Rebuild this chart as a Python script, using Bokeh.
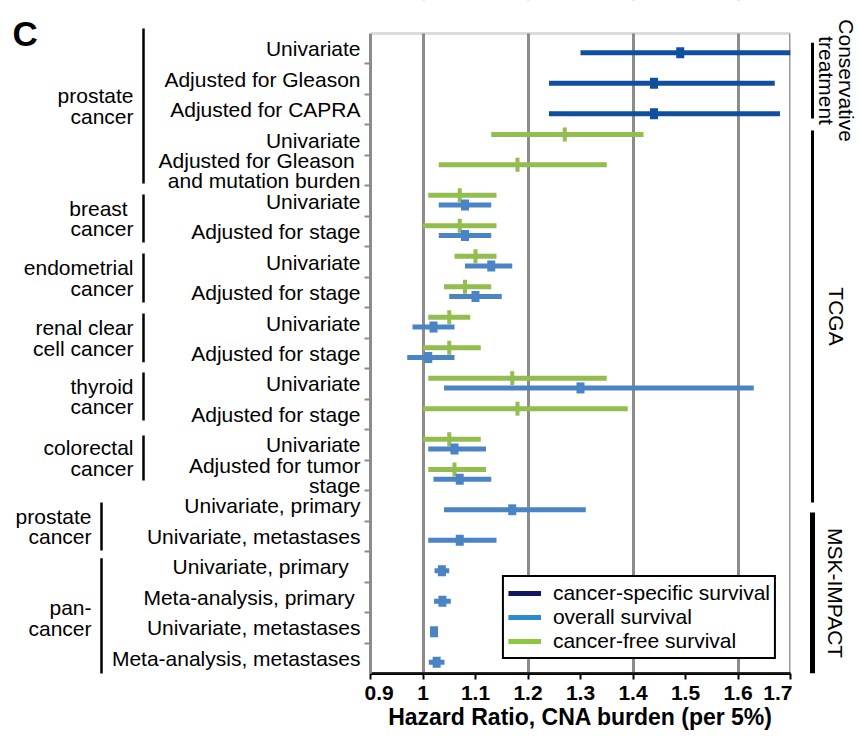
import numpy as np
from bokeh.plotting import figure
from bokeh.models import (Range1d, FixedTicker, Legend, LegendItem, ColumnDataSource, BoxAnnotation)
from bokeh.layouts import row
from bokeh.embed import file_html
from bokeh.resources import INLINE
from bokeh.core.properties import value

FONT = "Liberation Sans"

# ---------------- data ----------------
row_labels = ["Univariate", "Adjusted for Gleason", "Adjusted for CAPRA", "Univariate",
              "Adjusted for Gleason \nand mutation burden",
              "Univariate", "Adjusted for stage",
              "Univariate", "Adjusted for stage",
              "Univariate", "Adjusted for stage",
              "Univariate", "Adjusted for stage",
              "Univariate", "Adjusted for tumor\nstage",
              "Univariate, primary", "Univariate, metastases",
              "Univariate,  primary ", "Meta-analysis, primary ",
              "Univariate, metastases", "Meta-analysis, metastases"]

group_labels = ["prostate\ncancer", "breast \ncancer", "endometrial\ncancer", "renal clear\ncell cancer",
                "thyroid\ncancer", "colorectal\ncancer", "prostate\ncancer", "pan-\ncancer"]
group_first = [0, 5, 7, 9, 11, 13, 15, 17]
group_last = [4, 6, 8, 10, 12, 14, 16, 20]

cohort_labels = ["Conservative\ntreatment", "TCGA", "MSK-IMPACT"]
cohort_first = [0, 3, 15]
cohort_last = [2, 14, 20]

# cancer-specific survival
cs_rows = [0, 1, 2]
cs_hr = [1.49, 1.44, 1.44]
cs_lo = [1.30, 1.24, 1.24]
cs_hi = [1.70, 1.67, 1.68]

# overall survival
os_rows = [5, 6, 7, 8, 9, 10, 11, 13, 14, 15, 16, 17, 18, 19, 20]
os_hr = [1.08, 1.08, 1.13, 1.10, 1.02, 1.01, 1.30, 1.06, 1.07, 1.17, 1.07, 1.036, 1.037, 1.021, 1.026]
os_lo = [1.03, 1.03, 1.08, 1.05, 0.98, 0.97, 1.04, 1.01, 1.02, 1.04, 1.01, 1.022, 1.021, 1.016, 1.011]
os_hi = [1.13, 1.13, 1.17, 1.15, 1.06, 1.06, 1.63, 1.12, 1.13, 1.31, 1.14, 1.050, 1.053, 1.027, 1.041]

# cancer-free survival
cf_rows = [3, 4, 5, 6, 7, 8, 9, 10, 11, 12, 13, 14]
cf_hr = [1.27, 1.18, 1.07, 1.07, 1.10, 1.08, 1.05, 1.05, 1.17, 1.18, 1.05, 1.06]
cf_lo = [1.13, 1.03, 1.01, 1.00, 1.06, 1.04, 1.01, 1.00, 1.01, 1.00, 1.00, 1.01]
cf_hi = [1.42, 1.35, 1.14, 1.14, 1.14, 1.13, 1.09, 1.11, 1.35, 1.39, 1.11, 1.12]

x_ticks = [0.9, 1.0, 1.1, 1.2, 1.3, 1.4, 1.5, 1.6, 1.7]
x_tick_labels = ["0.9", "1", "1.1", "1.2", "1.3", "1.4", "1.5", "1.6", "1.7"]
grid_ticks = [1.0, 1.2, 1.4, 1.6]

legend_labels = ["cancer-specific survival", "overall survival", "cancer-free survival"]

# ---------------- layout / style ----------------
N = len(row_labels)
X_MIN, X_MAX = 0.9, 1.7
PLOT_TOP = 33           # page y of the plotting area's top edge
PLOT_H = 640
FRAME_H = PLOT_TOP + PLOT_H
FRAME_W = 420
AXIS_AREA = 67          # height of main bottom axis
ROW_PX = PLOT_H / N
AXIS_W = 6              # width of main left axis
LEFT_W = 370 - AXIS_W
RIGHT_W = 859 - 370 - FRAME_W - 2

C_DARK = "#104e9f"
C_BLUE = "#4a84c5"
C_GREEN = "#93bd4f"
L_DARK = "#0f1763"
L_BLUE = "#2b8bcb"
L_GREEN = "#8dc63f"
GRID = "#8c8c8c"

CF_OFF = -0.19
OS_OFF = 0.13

# bracket extents (row units)
grp_top = [-0.66, 4.78, 6.72, 8.69, 10.62, 12.69, 14.89, 16.72]
grp_bot = [4.42, 6.36, 8.33, 10.29, 12.20, 14.17, 16.46, 20.63]
grp_x = [143, 143, 143, 143, 143, 143, 101, 101]
coh_top = [-0.20, 2.68, 15.22]
coh_bot = [2.29, 14.89, 20.50]
coh_w = [3, 3, 5]
coh_x = [44, 44, 43]


def page_y_to_row(py):
    return (py - PLOT_TOP) / ROW_PX - 0.5


ROW_TOP, ROW_BOT = -0.5, N - 0.5
y_range = Range1d(ROW_BOT, page_y_to_row(0))

# ---------------- main figure ----------------
p = figure(output_backend="svg", toolbar_location=None, tools="",
           frame_width=FRAME_W, frame_height=FRAME_H,
           x_range=Range1d(X_MIN, X_MAX), y_range=y_range,
           min_border_left=0, min_border_right=2, min_border_top=0, min_border_bottom=0,
           background_fill_color="white", border_fill_color="white")
p.outline_line_color = None

p.xgrid.ticker = FixedTicker(ticks=grid_ticks)
p.xgrid.grid_line_color = GRID
p.xgrid.grid_line_width = 3
p.ygrid.grid_line_color = None

xa = p.xaxis[0]
xa.ticker = FixedTicker(ticks=x_ticks)
xa.major_label_overrides = {t: s for t, s in zip(x_ticks, x_tick_labels)}
xa.axis_line_color = "black"
xa.axis_line_width = 3
xa.major_tick_line_color = "black"
xa.major_tick_line_width = 2
xa.major_tick_out = 6
xa.major_tick_in = 0
xa.minor_tick_line_color = None
xa.major_label_text_font = FONT
xa.major_label_text_font_style = "bold"
xa.major_label_text_font_size = "21px"
xa.major_label_text_color = "black"
xa.major_label_standoff = 6
xa.axis_label = "Hazard Ratio, CNA burden (per 5%)"
xa.axis_label_text_font = FONT
xa.axis_label_text_font_style = "bold"
xa.axis_label_text_font_size = "23px"
xa.axis_label_text_color = "black"
xa.axis_label_standoff = 1

y_bounds = [i + 0.5 for i in range(N - 1)]
ya = p.yaxis[0]
ya.ticker = FixedTicker(ticks=y_bounds)
ya.major_label_overrides = {t: "" for t in y_bounds}
ya.bounds = (ROW_TOP, ROW_BOT)
ya.axis_line_color = GRID
ya.axis_line_width = 3
ya.major_tick_line_color = GRID
ya.major_tick_line_width = 2
ya.major_tick_out = 6
ya.major_tick_in = 0
ya.minor_tick_line_color = None
ya.major_label_standoff = 0

# white band above the plotting area (hides grid lines there)
p.add_layout(BoxAnnotation(top=page_y_to_row(0), bottom=ROW_TOP, fill_color="white", fill_alpha=1.0,
                           line_color=None))
# gray border of the plotting area, black right edge
p.add_layout(BoxAnnotation(left=X_MIN, right=X_MAX, top=ROW_TOP, bottom=ROW_BOT, fill_alpha=0,
                           line_color=GRID, line_width=3))
p.add_layout(BoxAnnotation(left=X_MAX, right=X_MAX, top=ROW_TOP, bottom=ROW_BOT, fill_alpha=0,
                           line_color="black", line_width=3))


def draw_series(rows, hr, lo, hi, off, color, marker_w, marker_h):
    src = ColumnDataSource(dict(y=[r + off for r in rows], hr=hr, lo=lo, hi=hi))
    p.segment(x0="lo", x1="hi", y0="y", y1="y", source=src, line_color=color, line_width=5)
    p.rect(x="hr", y="y", width=marker_w, height=marker_h, width_units="screen", height_units="screen",
           source=src, fill_color=color, line_color=None)


draw_series(cf_rows, cf_hr, cf_lo, cf_hi, CF_OFF, C_GREEN, 4, 14)
draw_series(os_rows, os_hr, os_lo, os_hi, OS_OFF, C_BLUE, 8, 11)
draw_series(cs_rows, cs_hr, cs_lo, cs_hi, OS_OFF, C_DARK, 8, 11)

leg_renderers = []
for col in [L_DARK, L_BLUE, L_GREEN]:
    r = p.line(x=[np.nan], y=[np.nan], line_color=col, line_width=5)
    leg_renderers.append(r)
legend = Legend(items=[LegendItem(label=lab, renderers=[r]) for lab, r in zip(legend_labels, leg_renderers)],
                location="bottom_right", margin=14, padding=4, spacing=0,
                glyph_width=33, glyph_height=16, label_height=16, label_standoff=12,
                label_text_font=FONT, label_text_font_size="21px", label_text_color="black",
                border_line_color="black", border_line_width=2, border_line_alpha=1.0,
                background_fill_color="white", background_fill_alpha=1.0)
p.add_layout(legend)

side_kw = dict(output_backend="svg", toolbar_location=None, tools="", frame_height=FRAME_H,
               y_range=y_range, min_border_left=0, min_border_right=0,
               min_border_top=0, min_border_bottom=AXIS_AREA,
               x_axis_location=None, y_axis_location=None, outline_line_color=None,
               background_fill_color="white", border_fill_color="white")

# ---------------- left label figure ----------------
pl = figure(width=LEFT_W, x_range=Range1d(0, LEFT_W), **side_kw)
pl.grid.visible = False

pl.text(x=[360] * N, y=list(range(N)), text=row_labels,
        text_align="right", text_baseline="middle", text_font=value(FONT),
        text_font_size="21px", text_color="black", text_line_height=0.9)

g_center = [(a + b) / 2 for a, b in zip(grp_top, grp_bot)]
pl.segment(x0=grp_x, x1=grp_x, y0=grp_top, y1=grp_bot, line_color="black", line_width=2.5)
pl.text(x=[gx - 10 for gx in grp_x], y=g_center, text=group_labels,
        text_align="right", text_baseline="middle", text_font=value(FONT),
        text_font_size="21px", text_color="black", text_line_height=0.9)

pl.text(x=[12], y=[page_y_to_row(33)], text=["C"], text_align="left", text_baseline="alphabetic",
        text_font=value(FONT), text_font_style="bold", text_font_size="35px", text_color="black")

# ---------------- right cohort figure ----------------
pr = figure(width=RIGHT_W, x_range=Range1d(0, RIGHT_W), **side_kw)
pr.grid.visible = False
c_center = [(a + b) / 2 for a, b in zip(coh_top, coh_bot)]
pr.segment(x0=[20] * 3, x1=[20] * 3, y0=coh_top, y1=coh_bot, line_color="black", line_width=coh_w)
pr.text(x=coh_x, y=c_center, text=cohort_labels, angle=-np.pi / 2,
        text_align="center", text_baseline="middle", text_font=value(FONT),
        text_font_size="21px", text_color="black", text_line_height=0.9)

layout = row(pl, p, pr)
open("out.html", "w").write(file_html(layout, INLINE))
